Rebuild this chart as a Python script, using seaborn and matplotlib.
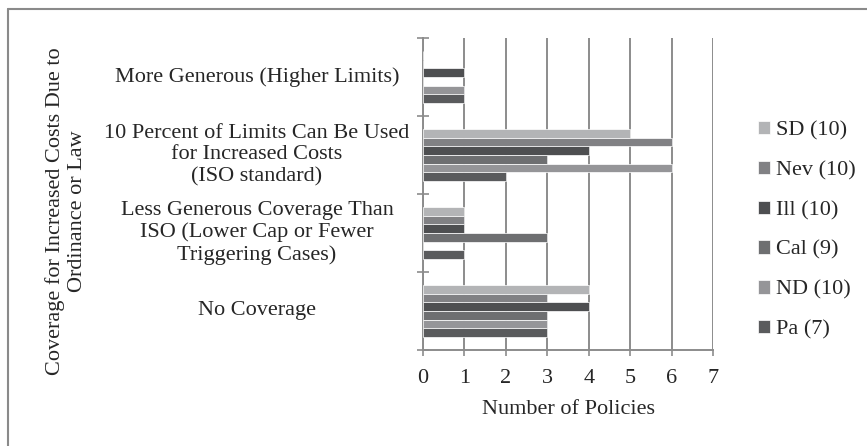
import pandas as pd
import matplotlib.pyplot as plt
import seaborn as sns
from matplotlib.lines import Line2D
from matplotlib.transforms import blended_transform_factory

categories = ['More Generous (Higher Limits)',
              '10 Percent of Limits Can Be Used\nfor Increased Costs\n(ISO standard)',
              'Less Generous Coverage Than\nISO (Lower Cap or Fewer\nTriggering Cases)',
              'No Coverage']
states = ['SD (10)', 'Nev (10)', 'Ill (10)', 'Cal (9)', 'ND (10)', 'Pa (7)']
sd = [0, 5, 1, 4]
nev = [0, 6, 1, 3]
ill = [1, 4, 1, 4]
cal = [0, 3, 3, 3]
nd = [1, 6, 0, 3]
pa = [1, 2, 1, 3]
colors = ['#b3b4b6', '#808184', '#4e4f51', '#6e6f71', '#949598', '#5a5b5d']

rows = []
for st, vals in zip(states, [sd, nev, ill, cal, nd, pa]):
    for cat, v in zip(categories, vals):
        rows.append({'cat': cat, 'state': st, 'n': v})
df = pd.DataFrame(rows)

sns.set_style('white')
plt.rcParams['font.family'] = ['Liberation Serif', 'DejaVu Serif']
fs = 16

fig = plt.figure(figsize=(8.67, 4.46), dpi=100)
ax = fig.add_axes([423/867, 1-350/446, 290/867, 312/446])

sns.barplot(data=df, x='n', y='cat', hue='state', order=categories,
            hue_order=states, palette=colors, orient='h', width=0.67,
            edgecolor='white', linewidth=0.5, ax=ax, legend=True, zorder=3)

grid_c = '#8c8c8c'
ax.set_xlim(0, 7)
ax.set_ylim(3.5, -0.5)
ax.set_xticks(range(8))
ax.set_xticklabels([str(i) for i in range(8)], fontsize=fs)
ax.xaxis.grid(True, color=grid_c, lw=1.4, zorder=0)
ax.set_axisbelow(True)
ax.set_yticks([-0.5, 0.5, 1.5, 2.5, 3.5])
ax.set_yticklabels([])
ax.tick_params(axis='y', direction='inout', length=9, width=1.2, color=grid_c, left=True)
ax.tick_params(axis='x', direction='out', length=4, width=1.2, color=grid_c, bottom=True, pad=10)
for s in ['top', 'right']:
    ax.spines[s].set_visible(False)
for s in ['left', 'bottom']:
    ax.spines[s].set_color(grid_c)
    ax.spines[s].set_linewidth(1.4)
ax.set_ylabel('')
ax.set_xlabel('Number of Policies', fontsize=fs, labelpad=8)

tr = blended_transform_factory(fig.transFigure, ax.transData)
for i, cat in enumerate(categories):
    ax.text(257/867, i, cat, transform=tr, ha='center', va='center',
            fontsize=fs, multialignment='center', linespacing=1.2)

fig.text(66/867, 1-211/446, 'Coverage for Increased Costs Due to\nOrdinance or Law',
         rotation=90, ha='center', va='center', fontsize=fs,
         multialignment='center', linespacing=1.15)

ax.get_legend().remove()
handles, labels = ax.get_legend_handles_labels()
fig.legend(handles, labels, loc='upper left', bbox_to_anchor=(738/867, 1-101/446),
           frameon=False, fontsize=fs, handlelength=0.55, handleheight=0.55,
           handletextpad=0.25, labelspacing=0.91)

fig.add_artist(Line2D([8/867, 1], [1-9/446, 1-9/446], color='#8a8a8a', lw=1.5))
fig.add_artist(Line2D([8/867, 8/867], [0, 1-9/446], color='#8a8a8a', lw=1.5))

fig.savefig('out.png', dpi=100)
